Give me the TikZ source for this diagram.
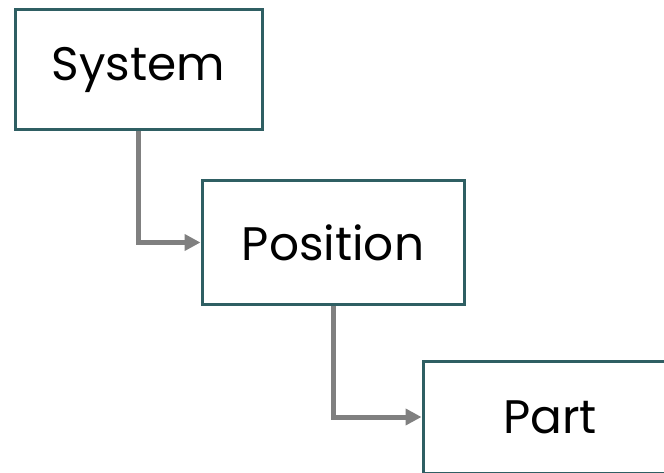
\documentclass[tikz,border=0pt]{standalone}
\usepackage{fontspec}
\setmainfont{Poppins}
\usetikzlibrary{positioning,arrows.meta}

\definecolor{boxteal}{HTML}{2F5F63}
\definecolor{linkgray}{HTML}{808080}

\tikzset{
    level/.style={draw=boxteal, line width=3pt, fill=white, inner sep=0pt,
        font=\fontsize{47}{56}\selectfont},
    link/.style={draw=linkgray, line width=5pt,
        -{Triangle[length=16pt,width=16pt]}},
}

\begin{document}
\begin{tikzpicture}[x=1pt,y=1pt]
    \useasboundingbox (0,0) rectangle (664,-473);
    \clip (0,0) rectangle (664,-473);

    \node[level, minimum width=247pt, minimum height=120pt] (sys) at (138.5,-70) {System};
    \node[level, minimum width=262pt, minimum height=123pt,
        below right=48pt and -63pt of sys] (pos) {Position};
    \node[level, minimum width=254pt, minimum height=112pt,
        below right=54pt and -44pt of pos] (part) {Part};

    \draw[link] (sys.south) |- (pos.west);
    \draw[link] (pos.south) |- (part.west);
\end{tikzpicture}
\end{document}
